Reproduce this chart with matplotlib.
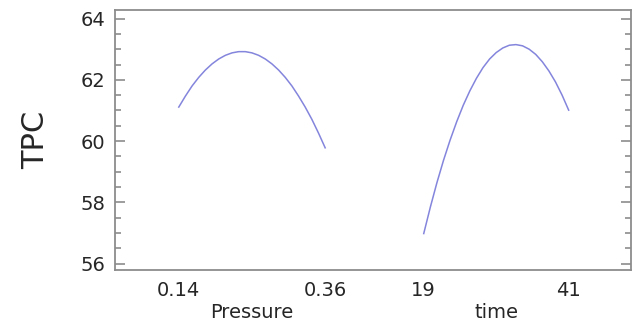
import numpy as np
import matplotlib
matplotlib.use("Agg")
import matplotlib.pyplot as plt

# main effects
pressure = [0.14, 0.15, 0.16, 0.17, 0.18, 0.19, 0.20, 0.21, 0.22, 0.23, 0.24, 0.25,
            0.26, 0.27, 0.28, 0.29, 0.30, 0.31, 0.32, 0.33, 0.34, 0.35, 0.36]
tpc_pressure = [61.11, 61.47, 61.80, 62.08, 62.32, 62.52, 62.68, 62.80, 62.88, 62.92, 62.92, 62.88,
                62.80, 62.68, 62.52, 62.32, 62.08, 61.80, 61.47, 61.11, 60.71, 60.26, 59.78]

time = [19, 20, 21, 22, 23, 24, 25, 26, 27, 28, 29, 30,
        31, 32, 33, 34, 35, 36, 37, 38, 39, 40, 41]
tpc_time = [56.98, 57.84, 58.64, 59.37, 60.03, 60.63, 61.17, 61.64, 62.05, 62.40, 62.68, 62.89,
            63.04, 63.13, 63.15, 63.11, 63.00, 62.83, 62.59, 62.29, 61.93, 61.50, 61.01]

factor_names = ["Pressure", "time"]
level_labels = [["0.14", "0.36"], ["19", "41"]]

# where each factor sits on the shared x axis
slots = [(0.44, 1.45), (2.13, 3.13)]

def to_slot(vals, lo, hi, slot):
    vals = np.asarray(vals, dtype=float)
    return slot[0] + (vals - lo) / (hi - lo) * (slot[1] - slot[0])

plt.rcParams['font.family'] = ['DejaVu Sans']
line_col = '#8485dc'
frame_col = '#8c8c8c'
text_col = '#262626'

fig = plt.figure(figsize=(6.32, 3.24), dpi=100)
ax = fig.add_axes([115 / 632, 54 / 324, 516 / 632, 260 / 324])

ax.plot(to_slot(pressure, pressure[0], pressure[-1], slots[0]), tpc_pressure, color=line_col, lw=1.1)
ax.plot(to_slot(time, time[0], time[-1], slots[1]), tpc_time, color=line_col, lw=1.1)

ax.set_xlim(0, 3.56)
ax.set_ylim(55.79, 64.28)

ax.set_yticks([56, 58, 60, 62, 64])
ax.set_yticks(np.arange(56, 64.01, 0.5), minor=True)
ax.tick_params(axis='y', which='both', direction='in', left=True, right=True,
               color=frame_col, width=1.2, labelsize=14, labelcolor=text_col, pad=7)
ax.tick_params(axis='y', which='major', length=7)
ax.tick_params(axis='y', which='minor', length=4)

ticks = [s for pair in slots for s in pair]
labels = [l for pair in level_labels for l in pair]
ax.set_xticks(ticks)
ax.set_xticklabels(labels)
ax.tick_params(axis='x', length=0, labelsize=14, labelcolor=text_col, pad=8)

for name, slot in zip(factor_names, slots):
    ax.text((slot[0] + slot[1]) / 2, -0.125, name, transform=ax.get_xaxis_transform(),
            ha='center', va='top', fontsize=14, color=text_col)

ax.set_ylabel('TPC', fontsize=22, color=text_col, labelpad=22)

for sp in ax.spines.values():
    sp.set_color(frame_col)
    sp.set_linewidth(1.3)

plt.savefig('out.png', dpi=100)
